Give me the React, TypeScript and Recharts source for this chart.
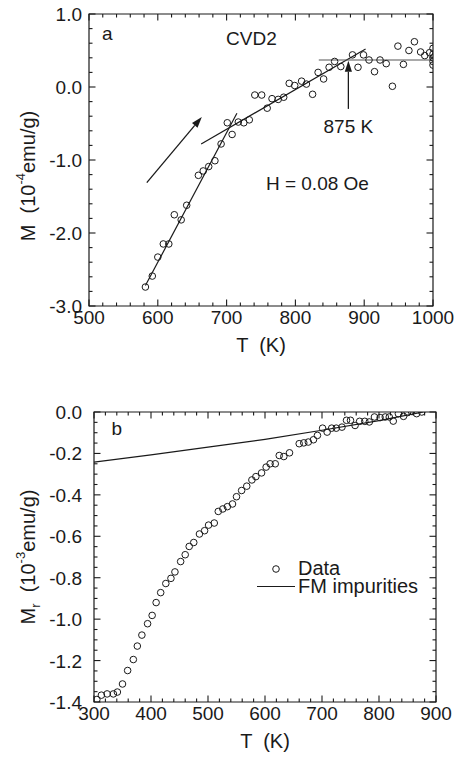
import React from "react"
import {
    ComposedChart,
    Scatter,
    Line,
    XAxis,
    YAxis,
    ReferenceLine,
    ReferenceArea,
    ReferenceDot,
    Legend
} from "recharts"

const FONT = '"Liberation Sans", Arial, sans-serif'
const INK = '#1a1a1a'

// panel a: M vs T while heating, H = 0.08 Oe
const aTemp = [
    582, 592, 600, 608, 616, 624, 634, 642, 659, 666,
    674, 683, 692, 701, 708, 717, 725, 733, 741, 751,
    759, 766, 775, 783, 791, 799, 809, 816, 825, 833,
    841, 849, 857, 866, 883, 891, 899, 907, 915, 923,
    932, 941, 949, 957, 965, 973, 982, 988, 995, 1000,
    1000, 1000, 1000, 1000
]
const aMag = [
    -2.74, -2.59, -2.33, -2.15, -2.15, -1.75, -1.82, -1.62, -1.21, -1.15,
    -1.09, -1.01, -0.78, -0.49, -0.65, -0.48, -0.49, -0.45, -0.11, -0.11,
    -0.29, -0.16, -0.17, -0.14, 0.05, 0.02, 0.08, 0.04, -0.10, 0.20,
    0.11, 0.27, 0.35, 0.28, 0.44, 0.27, 0.44, 0.37, 0.21, 0.37,
    0.32, 0.01, 0.56, 0.31, 0.50, 0.62, 0.48, 0.43, 0.47, 0.53,
    0.45, 0.40, 0.35, 0.30
]
const aTicksX = [500, 520, 540, 560, 580, 600, 620, 640, 660, 680, 700, 720, 740, 760, 780, 800, 820, 840, 860, 880, 900, 920, 940, 960, 980, 1000]
const aMajorX = [500, 600, 700, 800, 900, 1000]
const aTicksY = [-3, -2.8, -2.6, -2.4, -2.2, -2, -1.8, -1.6, -1.4, -1.2, -1, -0.8, -0.6, -0.4, -0.2, 0, 0.2, 0.4, 0.6, 0.8, 1]
const aMajorY = [-3, -2, -1, 0, 1]
// fitted lines and arrows
const aFitSteep = [{ x: 582, y: -2.72 }, { x: 715, y: -0.36 }]
const aFitShallow = [{ x: 663, y: -0.78 }, { x: 902, y: 0.52 }]
const aPlateau = [{ x: 834, y: 0.37 }, { x: 1000, y: 0.37 }]
const aHeatArrow = [{ x: 584, y: -1.31 }, { x: 664, y: -0.41 }]
const aTcArrow = [{ x: 877, y: -0.30 }, { x: 877, y: 0.36 }]

// panel b: remanence
const bTemp = [
    305, 313, 323, 334, 341, 350, 359, 369, 376, 384,
    394, 402, 409, 417, 426, 435, 442, 452, 460, 467,
    475, 485, 494, 501, 511, 518, 526, 534, 543, 550,
    559, 568, 577, 584, 594, 602, 609, 618, 625, 633,
    643, 660, 668, 676, 685, 692, 701, 709, 717, 725,
    735, 743, 750, 758, 766, 775, 783, 792, 802, 811,
    818, 825, 834, 843, 850, 857, 866, 875
]
const bMag = [
    -1.388, -1.367, -1.361, -1.361, -1.352, -1.313, -1.248, -1.195, -1.130, -1.077,
    -1.022, -0.982, -0.920, -0.872, -0.828, -0.803, -0.772, -0.722, -0.689, -0.649,
    -0.630, -0.589, -0.573, -0.546, -0.536, -0.480, -0.468, -0.457, -0.444, -0.409,
    -0.379, -0.358, -0.328, -0.312, -0.294, -0.266, -0.250, -0.250, -0.210, -0.215,
    -0.197, -0.153, -0.149, -0.145, -0.134, -0.113, -0.078, -0.097, -0.078, -0.078,
    -0.073, -0.040, -0.040, -0.065, -0.045, -0.045, -0.048, -0.024, -0.027, -0.024,
    -0.024, -0.044, -0.008, -0.021, -0.003, 0.003, -0.008, 0.000
]
const fmTemp = [300, 400, 500, 600, 700, 800, 878]
const fmMag = [-0.242, -0.207, -0.170, -0.132, -0.088, -0.042, 0.0]
const bTicksX = [300, 320, 340, 360, 380, 400, 420, 440, 460, 480, 500, 520, 540, 560, 580, 600, 620, 640, 660, 680, 700, 720, 740, 760, 780, 800, 820, 840, 860, 880, 900]
const bMajorX = [300, 400, 500, 600, 700, 800, 900]
const bTicksY = [-1.4, -1.35, -1.3, -1.25, -1.2, -1.15, -1.1, -1.05, -1, -0.95, -0.9, -0.85, -0.8, -0.75, -0.7, -0.65, -0.6, -0.55, -0.5, -0.45, -0.4, -0.35, -0.3, -0.25, -0.2, -0.15, -0.1, -0.05, 0]
const bMajorY = [-1.4, -1.2, -1, -0.8, -0.6, -0.4, -0.2, 0]

const aData = aTemp.map((t, i) => ({ t, m: aMag[i] }))
const bData = bTemp.map((t, i) => ({ t, m: bMag[i] }))
const fmData = fmTemp.map((t, i) => ({ t, m: fmMag[i] }))

const isIn = (list: number[], v: number) => list.some((m) => Math.abs(m - v) < 1e-6)

// tick labels only; tick marks are drawn inside the frame below
const xLabelTick = (props: any) => (
    <text x={props.x} y={props.y + 18} textAnchor="middle" fontSize={19} fontFamily={FONT} fill={INK}>
        {String(props.payload.value)}
    </text>
)
const yLabelTick = (gap: number) => (props: any) => (
    <text x={props.x - gap} y={props.y + 7} textAnchor="end" fontSize={19} fontFamily={FONT} fill={INK}>
        {props.payload.value.toFixed(1)}
    </text>
)

// inward tick marks at both ends of a vertical / horizontal reference line
const vTick = (big: boolean) => (p: any) => {
    const len = big ? 6.5 : 3.5
    const top = Math.min(p.y1, p.y2)
    const bot = Math.max(p.y1, p.y2)
    return (
        <g>
            <line x1={p.x1} y1={bot} x2={p.x1} y2={bot - len} stroke={INK} strokeWidth={1.1} />
            <line x1={p.x1} y1={top} x2={p.x1} y2={top + len} stroke={INK} strokeWidth={1.1} />
        </g>
    )
}
const hTick = (big: boolean) => (p: any) => {
    const len = big ? 6.5 : 3.5
    const l = Math.min(p.x1, p.x2)
    const r = Math.max(p.x1, p.x2)
    return (
        <g>
            <line x1={l} y1={p.y1} x2={l + len} y2={p.y1} stroke={INK} strokeWidth={1.1} />
            <line x1={r} y1={p.y1} x2={r - len} y2={p.y1} stroke={INK} strokeWidth={1.1} />
        </g>
    )
}

const arrowShape = (props: any) => {
    const { x1, y1, x2, y2 } = props
    const dx = x2 - x1
    const dy = y2 - y1
    const L = Math.hypot(dx, dy) || 1
    const ux = dx / L
    const uy = dy / L
    const hl = 11
    const hw = 3.6
    const bx = x2 - ux * hl
    const by = y2 - uy * hl
    return (
        <g>
            <line x1={x1} y1={y1} x2={bx} y2={by} stroke={INK} strokeWidth={1.3} />
            <polygon
                points={`${x2},${y2} ${bx - uy * hw},${by + ux * hw} ${bx + uy * hw},${by - ux * hw}`}
                fill={INK}
            />
        </g>
    )
}

const circleShape = (props: any) => (
    <circle cx={props.cx} cy={props.cy} r={3.3} fill="none" stroke={INK} strokeWidth={1} />
)

const xTitle = (props: any) => {
    const vb = props.viewBox
    return (
        <text x={vb.x + vb.width / 2} y={vb.y + 46} textAnchor="middle" fontSize={20}
            fontFamily={FONT} fill={INK} style={{ whiteSpace: 'pre' }}>
            {'T  (K)'}
        </text>
    )
}

const aYTitle = (props: any) => {
    const vb = props.viewBox
    const cx = vb.x + 28
    const cy = vb.y + vb.height / 2 + 16
    return (
        <text x={cx} y={cy} transform={`rotate(-90, ${cx}, ${cy})`} textAnchor="middle" dominantBaseline="central"
            fontSize={20} fontFamily={FONT} fill={INK} style={{ whiteSpace: 'pre' }}>
            <tspan>{'M  (10'}</tspan>
            <tspan dy={-8} fontSize={13}>-4</tspan>
            <tspan dy={8}>emu/g)</tspan>
        </text>
    )
}

const bYTitle = (props: any) => {
    const vb = props.viewBox
    const cx = vb.x + 28
    const cy = vb.y + vb.height / 2
    return (
        <text x={cx} y={cy} transform={`rotate(-90, ${cx}, ${cy})`} textAnchor="middle" dominantBaseline="central"
            fontSize={20} fontFamily={FONT} fill={INK} style={{ whiteSpace: 'pre' }}>
            <tspan>M</tspan>
            <tspan dy={7} fontSize={13}>r</tspan>
            <tspan dy={-7}>{'  (10'}</tspan>
            <tspan dy={-8} fontSize={13}>-3</tspan>
            <tspan dy={8}>emu/g)</tspan>
        </text>
    )
}

const textLabel = (value: string) => ({
    value,
    position: 'center' as const,
    fontSize: 19,
    fontFamily: FONT,
    fill: INK
})

const legendContent = () => (
    <div style={{ fontFamily: FONT, fontSize: 20, color: INK, lineHeight: '17.5px' }}>
        <div style={{ display: 'flex', alignItems: 'center', height: 17.5 }}>
            <svg width={43} height={17.5}>
                <circle cx={21} cy={9} r={3.3} fill="none" stroke={INK} strokeWidth={1} />
            </svg>
            <span>Data</span>
        </div>
        <div style={{ display: 'flex', alignItems: 'center', height: 17.5 }}>
            <svg width={43} height={17.5}>
                <line x1={2} y1={8.5} x2={40} y2={8.5} stroke={INK} strokeWidth={1.2} />
            </svg>
            <span>FM impurities</span>
        </div>
    </div>
)

export default function App() {
    return (
        <div style={{ position: 'absolute', left: 0, top: 0, width: 456, height: 761 }}>
            <div style={{ position: 'absolute', left: 0, top: 0 }}>
                <ComposedChart width={456} height={380} margin={{ top: 14, right: 23, bottom: 14, left: 0 }}>
                    <XAxis xAxisId="x" dataKey="t" type="number" domain={[500, 1000]} allowDataOverflow
                        ticks={aMajorX} interval={0} tickSize={0} tickMargin={0} tickLine={false}
                        tick={xLabelTick} height={60} axisLine={false}
                        label={{ content: xTitle }} />
                    <YAxis yAxisId="y" dataKey="m" type="number" domain={[-3, 1]} allowDataOverflow
                        ticks={aMajorY} interval={0} tickSize={0} tickMargin={0} tickLine={false}
                        tick={yLabelTick(7)} width={89} axisLine={false}
                        label={{ content: aYTitle }} />
                    <ReferenceArea xAxisId="x" yAxisId="y" x1={500} x2={1000} y1={-3} y2={1}
                        fill="none" stroke={INK} strokeWidth={1.2} />
                    {aTicksX.map((v) => (
                        <ReferenceLine key={`ax${v}`} xAxisId="x" yAxisId="y" x={v} shape={vTick(isIn(aMajorX, v))} />
                    ))}
                    {aTicksY.map((v) => (
                        <ReferenceLine key={`ay${v}`} xAxisId="x" yAxisId="y" y={v} shape={hTick(isIn(aMajorY, v))} />
                    ))}
                    <ReferenceLine xAxisId="x" yAxisId="y" segment={aFitSteep} stroke={INK} strokeWidth={1.2} />
                    <ReferenceLine xAxisId="x" yAxisId="y" segment={aFitShallow} stroke={INK} strokeWidth={1.2} />
                    <ReferenceLine xAxisId="x" yAxisId="y" segment={aPlateau} stroke="#555" strokeWidth={1.2} />
                    <ReferenceLine xAxisId="x" yAxisId="y" segment={aHeatArrow} shape={arrowShape} />
                    <ReferenceLine xAxisId="x" yAxisId="y" segment={aTcArrow} shape={arrowShape} />
                    <Scatter xAxisId="x" yAxisId="y" data={aData} dataKey="m" shape={circleShape}
                        isAnimationActive={false} />
                    <ReferenceDot xAxisId="x" yAxisId="y" x={526.6} y={0.736} r={0} fill="none" stroke="none"
                        label={textLabel('a')} />
                    <ReferenceDot xAxisId="x" yAxisId="y" x={736} y={0.667} r={0} fill="none" stroke="none"
                        label={textLabel('CVD2')} />
                    <ReferenceDot xAxisId="x" yAxisId="y" x={877} y={-0.544} r={0} fill="none" stroke="none"
                        label={textLabel('875 K')} />
                    <ReferenceDot xAxisId="x" yAxisId="y" x={832} y={-1.319} r={0} fill="none" stroke="none"
                        label={textLabel('H = 0.08 Oe')} />
                </ComposedChart>
            </div>
            <div style={{ position: 'absolute', left: 0, top: 380 }}>
                <ComposedChart width={456} height={381} margin={{ top: 32, right: 20, bottom: 0, left: 0 }}>
                    <XAxis xAxisId="x" dataKey="t" type="number" domain={[300, 900]} allowDataOverflow
                        ticks={bMajorX} interval={0} tickSize={0} tickMargin={0} tickLine={false}
                        tick={xLabelTick} height={59} axisLine={false}
                        label={{ content: xTitle }} />
                    <YAxis yAxisId="y" dataKey="m" type="number" domain={[-1.4, 0]} allowDataOverflow
                        ticks={bMajorY} interval={0} tickSize={0} tickMargin={0} tickLine={false}
                        tick={yLabelTick(12)} width={94} axisLine={false}
                        label={{ content: bYTitle }} />
                    <ReferenceArea xAxisId="x" yAxisId="y" x1={300} x2={900} y1={-1.4} y2={0}
                        fill="none" stroke={INK} strokeWidth={1.2} />
                    {bTicksX.map((v) => (
                        <ReferenceLine key={`bx${v}`} xAxisId="x" yAxisId="y" x={v} shape={vTick(isIn(bMajorX, v))} />
                    ))}
                    {bTicksY.map((v) => (
                        <ReferenceLine key={`by${v}`} xAxisId="x" yAxisId="y" y={v} shape={hTick(isIn(bMajorY, v))} />
                    ))}
                    <Line xAxisId="x" yAxisId="y" data={fmData} dataKey="m" type="linear" stroke={INK}
                        strokeWidth={1.2} dot={false} activeDot={false} isAnimationActive={false}
                        name="FM impurities" />
                    <Scatter xAxisId="x" yAxisId="y" data={bData} dataKey="m" shape={circleShape}
                        isAnimationActive={false} name="Data" />
                    <ReferenceDot xAxisId="x" yAxisId="y" x={339.8} y={-0.08} r={0} fill="none" stroke="none"
                        label={textLabel('b')} />
                    <Legend layout="horizontal" verticalAlign="middle" align="center" content={legendContent}
                        wrapperStyle={{ position: 'absolute', left: 255, top: 180, width: 200, height: 36 }} />
                </ComposedChart>
            </div>
        </div>
    )
}
